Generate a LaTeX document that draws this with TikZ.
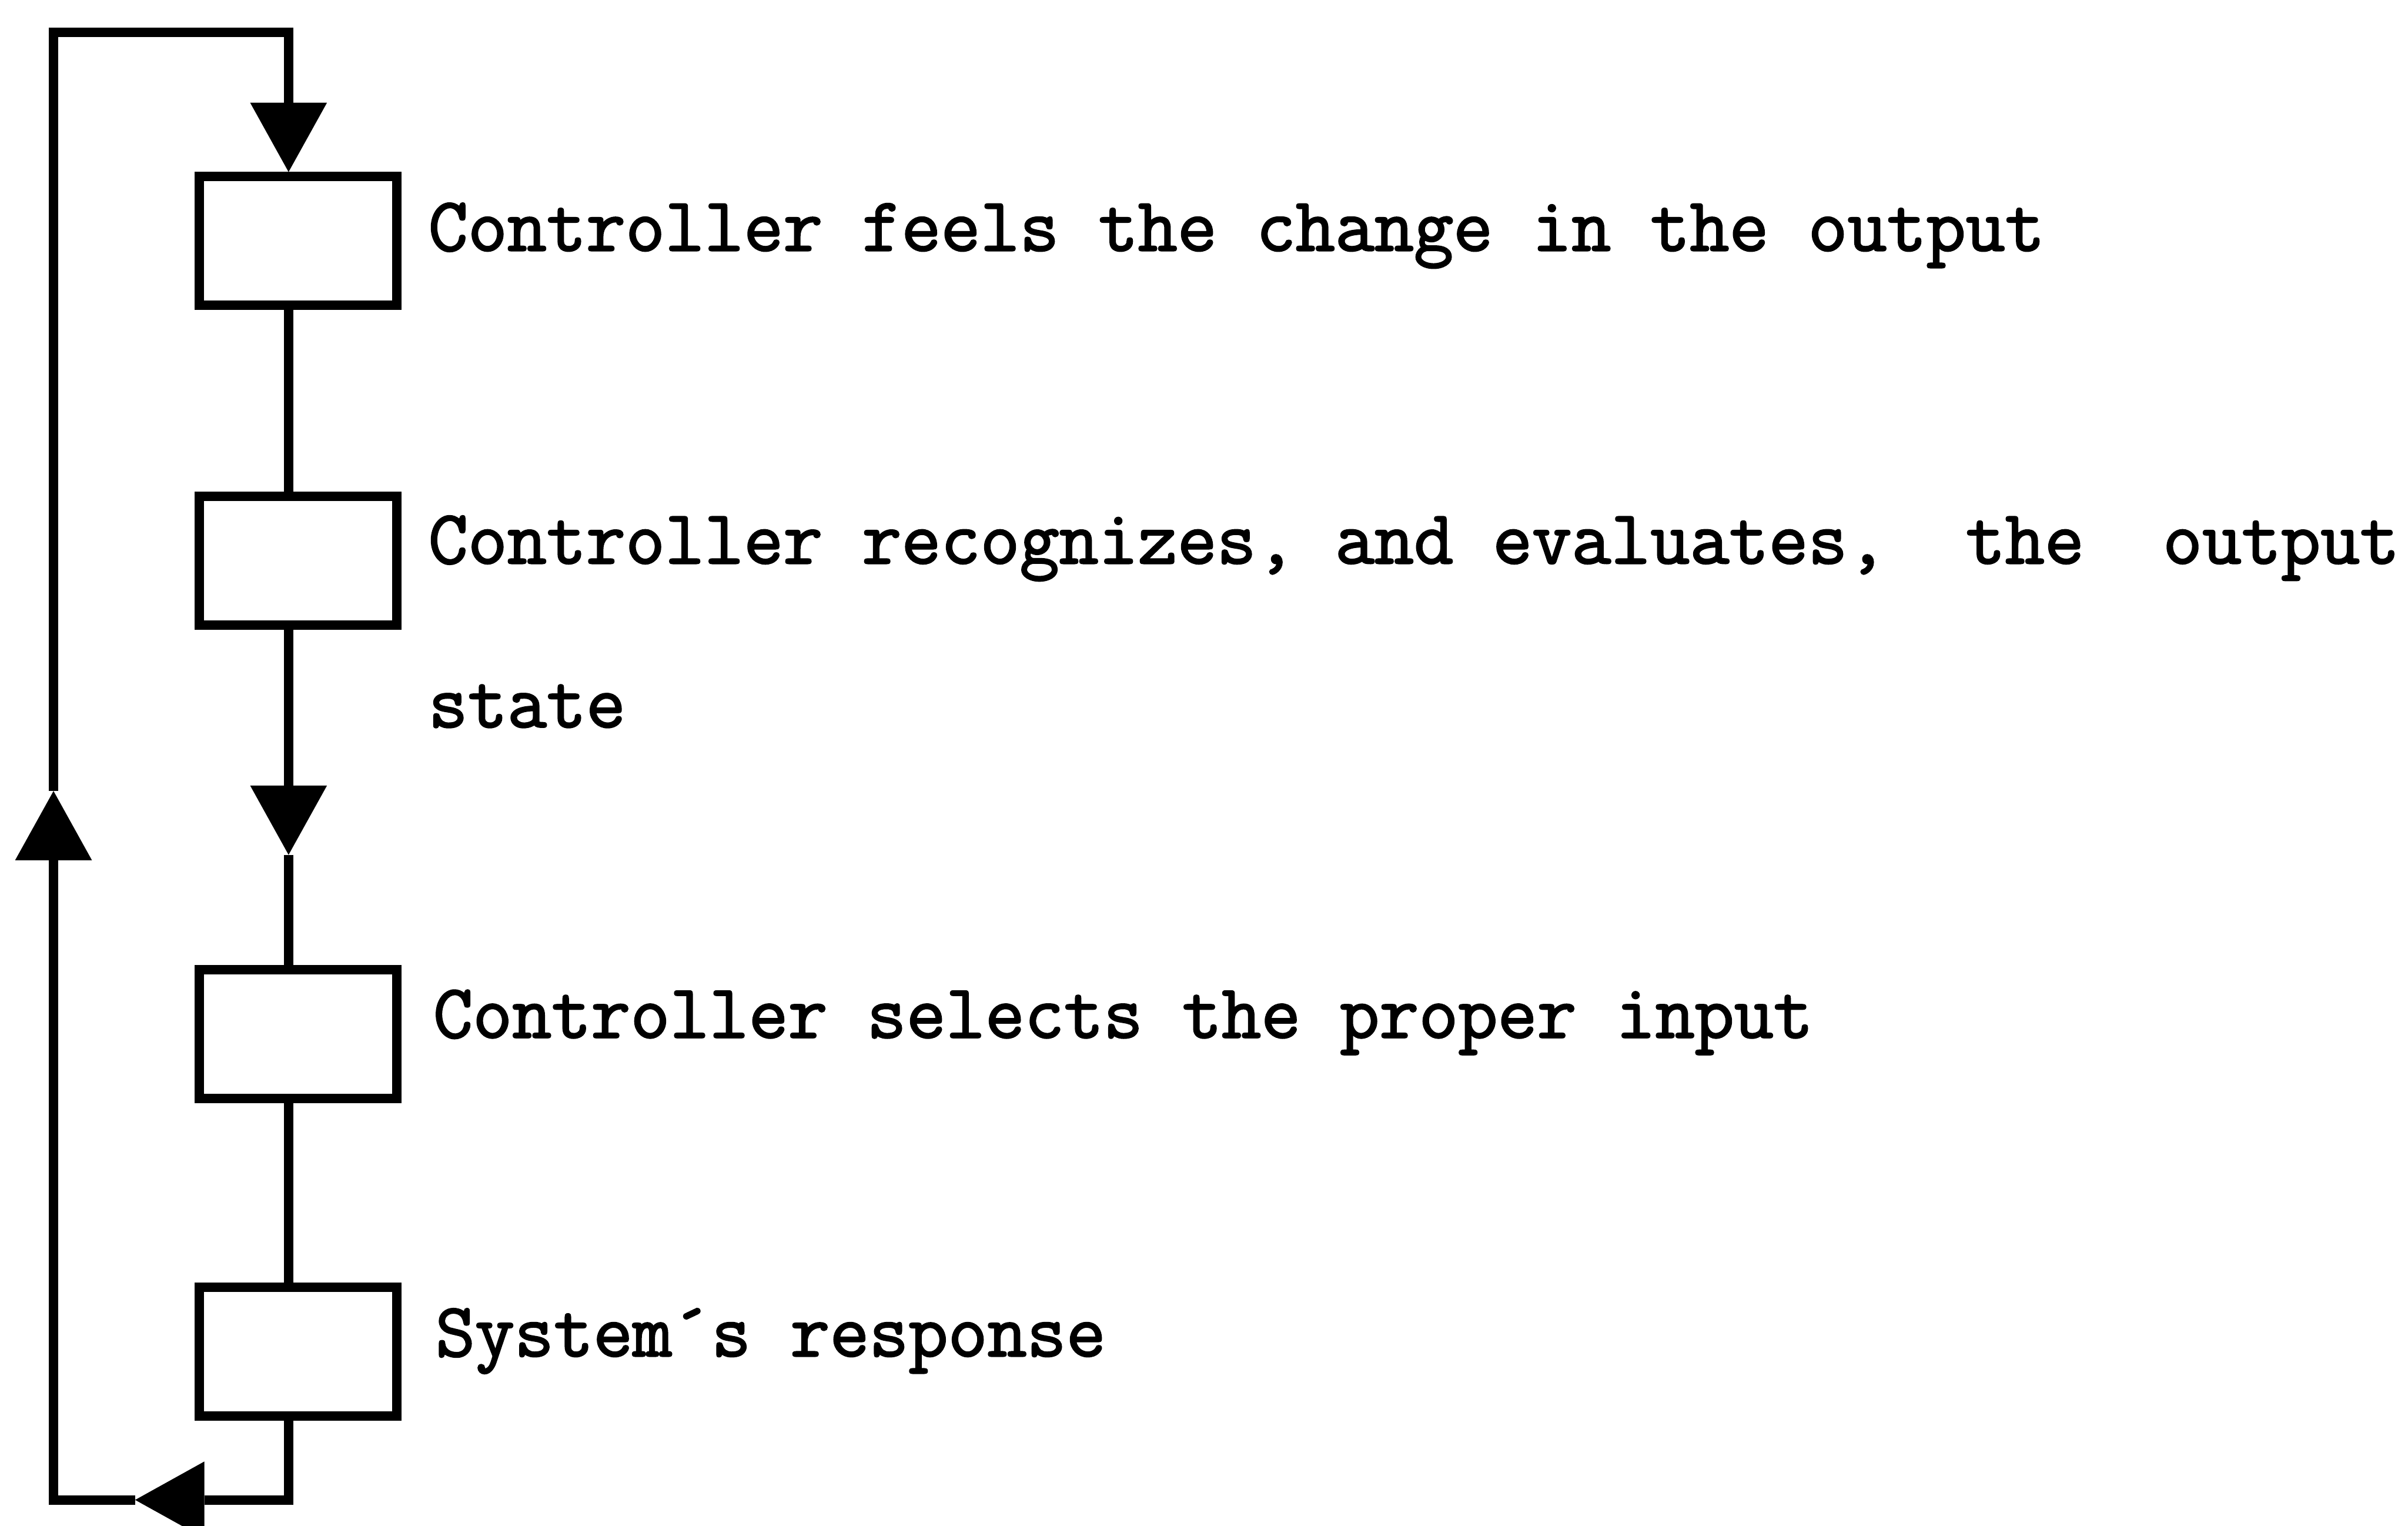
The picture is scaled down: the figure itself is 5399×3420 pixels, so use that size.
\documentclass[tikz,border=0pt]{standalone}
\usepackage{fontspec}
\usetikzlibrary{arrows.meta}
\newfontfamily\typewriter{Latin Modern Mono}[FakeBold=2]
\begin{document}
\begin{tikzpicture}[x=0.01cm,y=-0.01cm,
  flowline/.style={line width=0.21cm, line join=miter},
  tip/.style={-{Triangle[length=1.55cm,width=1.72cm,line width=0pt]}},
  stage/.style={draw, line width=0.21cm, minimum width=4.42cm, minimum height=2.88cm, inner sep=0pt},
  caption/.style={anchor=base west, inner sep=0pt, font=\typewriter\fontsize{48.8}{56}\selectfont}]
\frenchspacing
\useasboundingbox (0,0) rectangle (5399,3420);

% loop geometry
\coordinate (spine) at (647,0);
\coordinate (tl) at (120,73);
\coordinate (bl) at (120,3362);
\coordinate (m2) at (647,1916);
\coordinate (m3) at (120,1773);
\coordinate (m4) at (303,3362);

% stages
\node[stage] (b1) at (668,540) {};
\node[stage] (b2) at (668,1257) {};
\node[stage] (b3) at (668,2318) {};
\node[stage] (b4) at (668,3030) {};

% captions
\node[caption] (t1) at (960,562) {Controller feels the change in the output};
\node[caption] (t2) at (960,1263) {Controller recognizes, and evaluates,~~the~~output};
\node[caption] (t2b) at (960,1630) {state};
\node[caption] (t3) at (971,2326) {Controller selects the proper input};
\node[caption] (t4) at (976,3040) {System´s response};

% forward connectors
\draw[flowline] (b1.south -| spine) -- (b2.north -| spine);
\draw[flowline,tip] (b2.south -| spine) -- (m2);
\draw[flowline] (m2) -- (b3.north -| spine);
\draw[flowline] (b3.south -| spine) -- (b4.north -| spine);

% feedback loop
\draw[flowline,tip] (b4.south -| spine) -- (bl -| spine) -- (m4);
\draw[flowline,tip] (m4) -- (bl) -- (m3);
\draw[flowline,tip] (m3) -- (tl) -- (tl -| spine) -- (b1.north -| spine);
\end{tikzpicture}
\end{document}
